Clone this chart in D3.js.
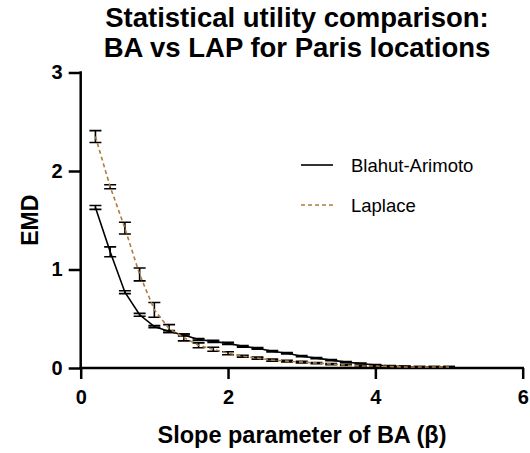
<!DOCTYPE html>
<html><head><meta charset="utf-8">
<script src="https://cdn.jsdelivr.net/npm/d3@7"></script>
<style>body{margin:0;background:#fff}svg{display:block;font-family:"Liberation Sans",Arial,sans-serif}</style>
</head><body><svg id="c" width="530" height="453"></svg>
<script>
const betas = [0.2,0.4,0.6,0.8,1.0,1.2,1.4,1.6,1.8,2.0,2.2,2.4,2.6,2.8,3.0,3.2,3.4,3.6,3.8,4.0,4.2,4.4,4.6,4.8,5.0];
const baValues = [1.63,1.18,0.77,0.54,0.42,0.37,0.335,0.29,0.27,0.25,0.22,0.20,0.17,0.15,0.12,0.10,0.08,0.06,0.045,0.03,0.02,0.015,0.01,0.01,0.01];
const baErrors = [0.02,0.05,0.015,0.015,0.01,0.01,0.01,0.01,0.01,0.01,0.008,0.008,0.008,0.008,0.006,0.006,0.005,0.005,0.005,0.004,0.004,0.004,0.004,0.004,0.004];
const lapValues = [2.35,1.84,1.42,0.95,0.59,0.40,0.31,0.23,0.19,0.15,0.12,0.10,0.08,0.07,0.06,0.05,0.04,0.03,0.02,0.02,0.015,0.01,0.01,0.01,0.01];
const lapErrors = [0.06,0.02,0.06,0.065,0.075,0.04,0.035,0.025,0.02,0.015,0.01,0.01,0.01,0.008,0.008,0.006,0.006,0.005,0.005,0.005,0.004,0.004,0.004,0.004,0.004];
const xTicks = [0,2,4,6];
const yTicks = [0,1,2,3];
const seriesNames = ["Blahut-Arimoto","Laplace"];
const titleLines = ["Statistical utility comparison:","BA vs LAP for Paris locations"];
const xLabel = "Slope parameter of BA (β)";
const yLabel = "EMD";

const svg = d3.select("#c");
const x = d3.scaleLinear().domain([0,6]).range([80.7,522.7]);
const y = d3.scaleLinear().domain([0,3]).range([368,72.5]);
const lapColor = "#b07a3c";

svg.append("g").selectAll("text").data(titleLines).join("text")
  .attr("x",297).attr("y",(d,i)=>27+i*30).attr("text-anchor","middle")
  .attr("font-size",27.5).attr("font-weight","bold").text(d=>d);

const xAxis = svg.append("g").attr("transform",`translate(0,${y(0)})`)
  .call(d3.axisBottom(x).tickValues(xTicks).tickFormat(d3.format("d")).tickSizeOuter(0).tickSize(11).tickPadding(11));
const yAxis = svg.append("g").attr("transform",`translate(${x(0)},0)`)
  .call(d3.axisLeft(y).tickValues(yTicks).tickFormat(d3.format("d")).tickSizeOuter(0).tickSize(12).tickPadding(6));
[xAxis,yAxis].forEach(g=>{
  g.select(".domain").attr("stroke","#000").attr("stroke-width",2.5);
  g.selectAll(".tick line").attr("stroke","#000").attr("stroke-width",2.5);
  g.selectAll(".tick text").attr("fill","#000").attr("font-size",20).attr("font-weight","bold").attr("font-family","Liberation Sans, Arial, sans-serif");
});
xAxis.select(".domain").attr("d",`M${x(0)-1.25},0H${x(6)+1.25}`);
yAxis.select(".domain").attr("d",`M0,${y(3)-1.25}V${y(0)+1.25}`);

svg.append("text").attr("x",302).attr("y",443).attr("text-anchor","middle")
  .attr("font-size",23.5).attr("font-weight","bold").text(xLabel);
svg.append("text").attr("transform",`translate(38,${y(1.5)}) rotate(-90)`).attr("text-anchor","middle")
  .attr("font-size",23).attr("font-weight","bold").text(yLabel);

const ba = betas.map((b,i)=>({x:b,y:baValues[i],e:baErrors[i]}));
const lap = betas.map((b,i)=>({x:b,y:lapValues[i],e:lapErrors[i]}));
const line = d3.line().x(d=>x(d.x)).y(d=>y(d.y));

function errorBars(data){
  const g = svg.append("g").attr("stroke","#000").attr("stroke-width",1.6).attr("fill","none");
  g.selectAll("path").data(data).join("path")
    .attr("d",d=>{const cx=x(d.x),t=y(d.y+d.e),b=y(d.y-d.e),w=6;
      return `M${cx-w},${t}H${cx+w}M${cx},${t}V${b}M${cx-w},${b}H${cx+w}`;});
}
errorBars(lap);
errorBars(ba);
svg.append("path").datum(ba).attr("d",line).attr("fill","none").attr("stroke","#000").attr("stroke-width",1.6);
svg.append("path").datum(lap).attr("d",line).attr("fill","none").attr("stroke",lapColor).attr("stroke-width",1.6).attr("stroke-dasharray","4,3");

const leg = svg.append("g");
const items = [{name:seriesNames[0],color:"#000",dash:null},{name:seriesNames[1],color:lapColor,dash:"4,3"}];
items.forEach((it,i)=>{
  const yy = 165+i*40;
  leg.append("line").attr("x1",301).attr("x2",333).attr("y1",yy).attr("y2",yy)
    .attr("stroke",it.color).attr("stroke-width",1.6).attr("stroke-dasharray",it.dash);
  leg.append("text").attr("x",351).attr("y",yy+7).attr("font-size",18.5).text(it.name);
});
</script></body></html>
